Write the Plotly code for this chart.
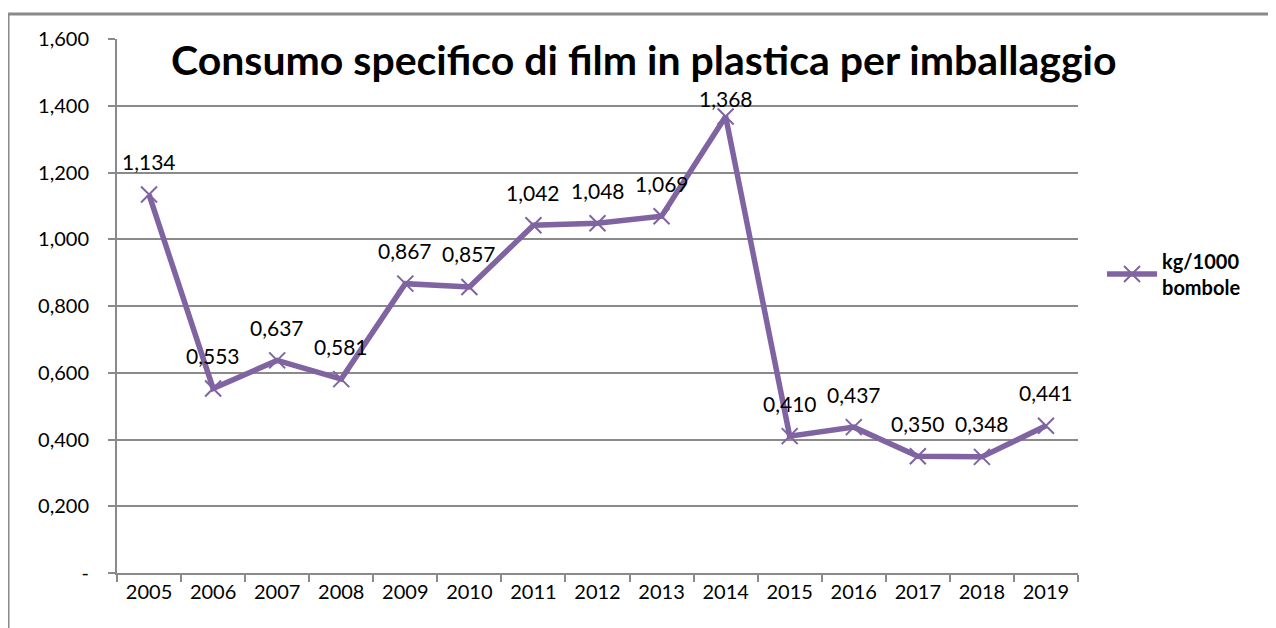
import plotly.graph_objects as go

years = ["2005", "2006", "2007", "2008", "2009", "2010", "2011", "2012",
         "2013", "2014", "2015", "2016", "2017", "2018", "2019"]
values = [1.134, 0.553, 0.637, 0.581, 0.867, 0.857, 1.042, 1.048,
          1.069, 1.368, 0.410, 0.437, 0.350, 0.348, 0.441]
y_ticks = [0, 0.2, 0.4, 0.6, 0.8, 1.0, 1.2, 1.4, 1.6]
y_tick_text = ["-", "0,200", "0,400", "0,600", "0,800", "1,000", "1,200", "1,400", "1,600"]
series_name = "kg/1000<br>bombole"
title_text = "Consumo specifico di film in plastica per imballaggio"

labels = [f"{v:.3f}".replace(".", ",") for v in values]

color = "#8064A2"
grid = "#8A8A8A"
font = "Lato"

fig = go.Figure()
fig.add_trace(go.Scatter(
    x=years, y=values, mode="lines+markers",
    name=series_name,
    line=dict(color=color, width=5.5),
    marker=dict(symbol="x-thin", size=16, line=dict(color=color, width=2), color=color),
    cliponaxis=False,
))

vmax = max(values)
annotations = [dict(
    x=i, y=v, text=lab, xref="x", yref="y", showarrow=False,
    yshift=(18 if v == vmax else 33), xanchor="center", yanchor="middle",
    font=dict(family=font, size=21, color="#000000"),
) for i, (v, lab) in enumerate(zip(values, labels))]

annotations.append(dict(
    text=f"<b>{title_text}</b>", xref="paper", yref="paper",
    x=0.548, y=0.962, xanchor="center", yanchor="middle", showarrow=False,
    font=dict(family=font, size=41, color="#000000"),
))

fig.update_layout(
    width=1276, height=628,
    margin=dict(l=109, r=206, t=31, b=63),
    paper_bgcolor="white", plot_bgcolor="white",
    font=dict(family=font, size=20, color="#000000"),
    showlegend=True,
    legend=dict(x=1.025, y=0.56, xanchor="left", yanchor="middle",
                font=dict(family=font, size=20, color="#000000", weight="bold"),
                bgcolor="rgba(0,0,0,0)", itemwidth=50),
    xaxis=dict(
        type="category", tickson="boundaries", ticks="outside", ticklen=7,
        tickwidth=2, tickcolor=grid, showline=True, linecolor=grid, linewidth=2,
        showgrid=False, tickfont=dict(family=font, size=20), range=[-0.5, 14.5],
    ),
    yaxis=dict(
        range=[0, 1.6], tickvals=y_ticks, ticktext=y_tick_text,
        ticks="outside", ticklen=7, tickwidth=2, tickcolor=grid,
        showline=True, linecolor=grid, linewidth=2,
        showgrid=True, gridcolor=grid, gridwidth=2, zeroline=False,
        tickfont=dict(family=font, size=20), ticklabelstandoff=15,
    ),
    annotations=annotations,
    shapes=[
        dict(type="line", xref="paper", yref="paper", x0=-0.1134, x1=1.3, y0=1.0468, y1=1.0468,
             line=dict(color=grid, width=3)),
        dict(type="line", xref="paper", yref="paper", x0=-0.1134, x1=-0.1134, y0=-0.2, y1=1.0468,
             line=dict(color=grid, width=3)),
    ],
)

fig.write_html("out.html")
